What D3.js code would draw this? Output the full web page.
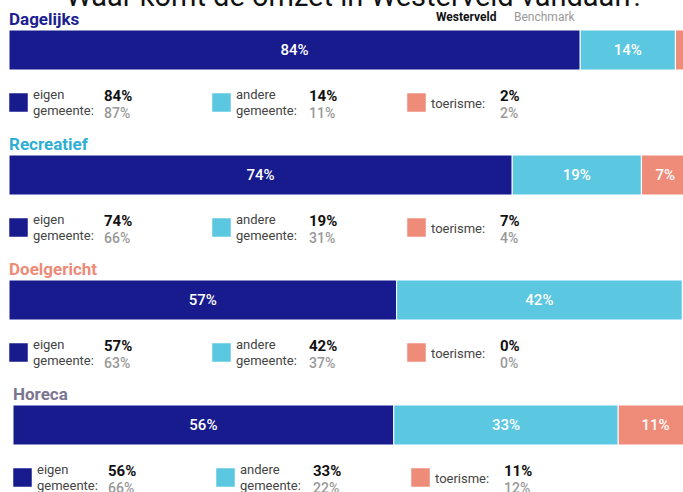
<!DOCTYPE html>
<html>
<head>
<meta charset="utf-8">
<script src="https://cdn.jsdelivr.net/npm/d3@7"></script>
<style>
    body { margin: 0; background: #fff; }
    svg { display: block; font-family: Roboto, "Liberation Sans", sans-serif; }
</style>
</head>
<body>
<div id="chart"></div>
<script>
// data
const categories = ['Dagelijks', 'Recreatief', 'Doelgericht', 'Horeca'];
const segments = ['eigen', 'andere', 'toerisme'];
const segmentLabels = [['eigen', 'gemeente:'], ['andere', 'gemeente:'], ['toerisme:']];
const westerveld = {
    eigen: [84, 74, 57, 56],
    andere: [14, 19, 42, 33],
    toerisme: [2, 7, 0, 11]
};
const benchmark = {
    eigen: [87, 66, 63, 66],
    andere: [11, 31, 37, 22],
    toerisme: [2, 4, 0, 12]
};
const title = 'Waar komt de omzet in Westerveld vandaan?';

// styling
const w = 683;
const h = 492;
const panelY = [0, 125, 250, 375];
const panelX = [0, 0, 0, 4];
const barHeight = 40;
const fill = d3.scaleOrdinal().domain(segments).range(['#171b8d', '#5bc7e1', '#ee8b79']);
const headColor = d3.scaleOrdinal().domain(categories).range(['#1b2090', '#2eafd3', '#ef8a78', '#7c7590']);
const legendX = [9, 212, 407];
const valueX = [104, 309, 500];

const x = d3.scaleLinear().domain([0, 100]).range([0, 680]);

const svg = d3.select('#chart')
    .append('svg')
    .attr('width', w)
    .attr('height', h);

// cut-off title at the very top
svg.append('text')
    .attr('x', 355)
    .attr('y', 6)
    .attr('text-anchor', 'middle')
    .attr('font-size', 29)
    .attr('fill', '#111')
    .text(title);

// top legend
svg.append('text')
    .attr('x', 436).attr('y', 21)
    .attr('font-size', 12).attr('font-weight', 'bold').attr('fill', '#111')
    .text('Westerveld');
svg.append('text')
    .attr('x', 514).attr('y', 21)
    .attr('font-size', 12).attr('fill', '#999')
    .text('Benchmark');

const rows = categories.map((c, i) => {
    let x0 = 0;
    const parts = segments.map(s => {
        const d = {key: s, value: westerveld[s][i], bench: benchmark[s][i], x0: x0};
        x0 += d.value;
        return d;
    });
    return {name: c, i: i, parts: parts};
});

const panel = svg.selectAll('.panel')
    .data(rows)
    .enter()
    .append('g')
    .attr('class', 'panel')
    .attr('transform', d => `translate(${panelX[d.i]},${panelY[d.i]})`);

panel.append('text')
    .attr('x', 9)
    .attr('y', 25)
    .attr('font-size', 17)
    .attr('font-weight', 'bold')
    .attr('fill', d => headColor(d.name))
    .text(d => d.name);

const bar = panel.append('g')
    .attr('transform', 'translate(9,30)');

bar.selectAll('rect')
    .data(d => d.parts.filter(p => p.value > 0))
    .enter()
    .append('rect')
    .attr('x', d => x(d.x0))
    .attr('width', d => x(d.value))
    .attr('height', barHeight)
    .attr('fill', d => fill(d.key))
    .attr('stroke', '#fff')
    .attr('stroke-width', 1);

// small slivers run off the edge, so no label there
bar.selectAll('.lbl')
    .data(d => d.parts.filter(p => p.value >= 5))
    .enter()
    .append('text')
    .attr('class', 'lbl')
    .attr('x', d => x(d.x0 + d.value / 2))
    .attr('y', barHeight / 2 + 5)
    .attr('text-anchor', 'middle')
    .attr('font-size', 15)
    .attr('font-weight', 500)
    .attr('fill', '#fff')
    .text(d => d.value + '%');

// legend per panel
const item = panel.selectAll('.item')
    .data(d => d.parts)
    .enter()
    .append('g')
    .attr('class', 'item');

item.append('rect')
    .attr('x', (d, j) => legendX[j])
    .attr('y', 93)
    .attr('width', 19)
    .attr('height', 19)
    .attr('fill', d => fill(d.key))
    .attr('stroke', '#fff')
    .attr('stroke-width', 0.5);

item.each(function(d, j) {
    const g = d3.select(this);
    const lines = segmentLabels[j];
    lines.forEach((t, k) => {
        g.append('text')
            .attr('x', legendX[j] + 24)
            .attr('y', lines.length === 1 ? 108 : 99 + k * 16)
            .attr('font-size', 13)
            .attr('fill', '#444')
            .text(t);
    });
});

item.append('text')
    .attr('x', (d, j) => valueX[j])
    .attr('y', 101)
    .attr('font-size', 15)
    .attr('font-weight', 'bold')
    .attr('fill', '#111')
    .text(d => d.value + '%');

item.append('text')
    .attr('x', (d, j) => valueX[j])
    .attr('y', 118)
    .attr('font-size', 14)
    .attr('font-weight', 500)
    .attr('fill', '#999')
    .text(d => d.bench + '%');
</script>
</body>
</html>
